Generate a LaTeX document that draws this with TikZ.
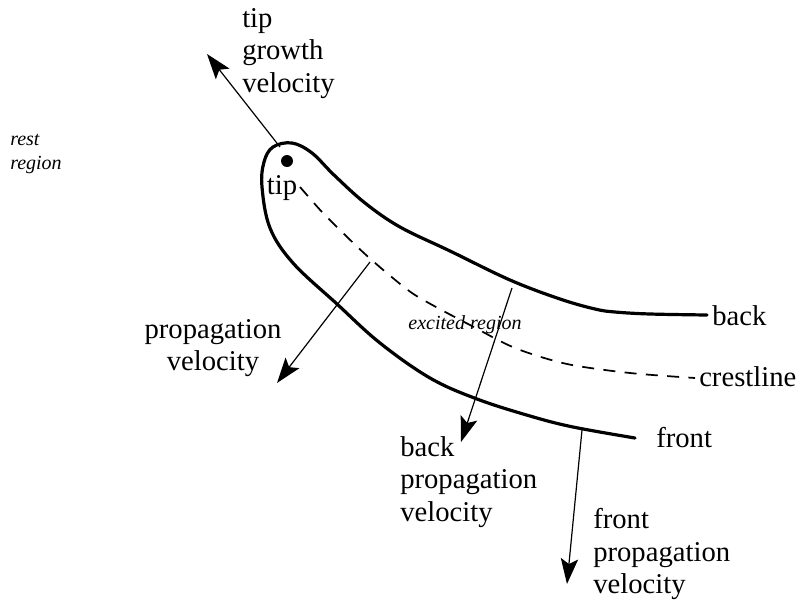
\documentclass[tikz,border=0pt]{standalone}
\usepackage{fontspec}
\setmainfont{Liberation Serif}
\usetikzlibrary{arrows.meta}
\begin{document}
\begin{tikzpicture}[x=0.75pt,y=-0.75pt,
  curve/.style={line width=2.4pt,line cap=round,line join=round},
  crest/.style={line width=1.3pt,dash pattern=on 9pt off 7pt},
  vel/.style={line width=0.9pt,-{Stealth[length=19pt,width=13pt,inset=4pt]}},
  lab/.style={font=\fontsize{21.5}{24.5}\selectfont,inner sep=0pt},
  ital/.style={font=\fontsize{15}{18}\selectfont\itshape,inner sep=0pt}]
\useasboundingbox (0,0) rectangle (801,607);
% body outline
\draw[curve] plot[smooth,tension=0.6] coordinates {(707,315) (650,314) (615,312) (595,309) (560,299) (510,280) (450,251) (400,227) (365,203) (334,175) (312,153) (292,143) (273,147) (264,162) (262,187) (270,228) (293,263) (337,304) (380,343) (430,378) (477,399) (530,416) (573,427) (635,438)};
% crestline
\draw[crest] plot[smooth,tension=0.5] coordinates {(300,187) (322,212) (343,233) (365,254) (388,274) (412,293) (436,307) (470,325) (515,348) (567,364) (630,373) (695,378)};
% tip dot
\fill (287,161) circle (4.5pt);
\node[lab] (tip) at (282,188) {tip};
% named coordinates
\coordinate (tipstart) at (280,147);
\coordinate (tipend) at (207,54);
\coordinate (pstart) at (370,262);
\coordinate (pend) at (277,383);
\coordinate (bstart) at (512,288);
\coordinate (bend) at (461,442);
\coordinate (fstart) at (582,430);
\coordinate (fend) at (567,584);
\draw[vel] (tipstart) -- (tipend);
\draw[vel] (pstart) -- (pend);
\draw[vel] (bstart) -- (bend);
\draw[vel] (fstart) -- (fend);
% labels
\node[lab,align=left,anchor=north west] (tgv) at (242,8) {tip\\growth\\velocity};
\node[ital,align=left,anchor=north west] (rest) at (10,134) {rest\\region};
\node[ital] (exc) at (465,325) {excited region};
\node[lab,align=center] (pv) at (213,348) {propagation\\velocity};
\node[lab,align=left,anchor=north west] (bpv) at (400,436) {back\\propagation\\velocity};
\node[lab,align=left,anchor=north west] (fpv) at (593,508) {front\\propagation\\velocity};
\node[lab,anchor=west] (back) at (712,316) {back};
\node[lab,anchor=west] (crestl) at (699,377) {crestline};
\node[lab,anchor=west] (front) at (656,438) {front};
\end{tikzpicture}
\end{document}
